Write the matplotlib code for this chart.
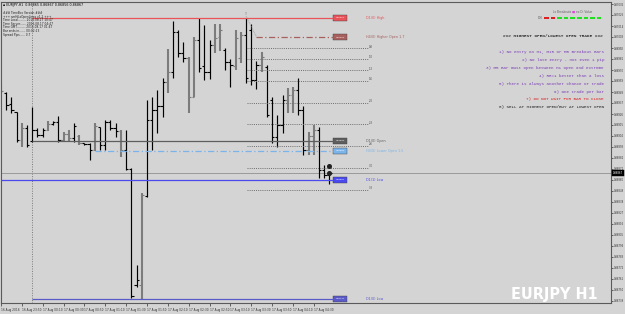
import matplotlib
matplotlib.use("Agg")
import numpy as np
import matplotlib.pyplot as plt
from matplotlib.patches import Rectangle
from matplotlib import font_manager

# --- бары (M5), цены ---
bar_opens = [0.86955, 0.86947, 0.86936, 0.86928, 0.86900, 0.86912, 0.86899, 0.86910, 0.86905, 0.86910,
             0.86916, 0.86918, 0.86900, 0.86906, 0.86902, 0.86904, 0.86897, 0.86896, 0.86890, 0.86913,
             0.86895, 0.86918, 0.86912, 0.86909, 0.86890, 0.86871, 0.86755, 0.86755, 0.86844, 0.86920,
             0.86930, 0.86934, 0.86958, 0.86968, 0.87008, 0.86987, 0.86982, 0.86943, 0.87000, 0.86974,
             0.86968, 0.86995, 0.87003, 0.86990, 0.86978, 0.86974, 0.86982, 0.87005, 0.87010, 0.86960,
             0.86975, 0.86973, 0.86940, 0.86903, 0.86915, 0.86940, 0.86945, 0.86950, 0.86930, 0.86890,
             0.86904, 0.86910, 0.86870, 0.86865]
bar_highs = [0.86957, 0.86948, 0.86943, 0.86928, 0.86917, 0.86915, 0.86933, 0.86912, 0.86912, 0.86919,
             0.86919, 0.86924, 0.86908, 0.86910, 0.86917, 0.86905, 0.86897, 0.86897, 0.86917, 0.86913,
             0.86920, 0.86920, 0.86917, 0.86910, 0.86910, 0.86872, 0.86775, 0.86847, 0.86940, 0.86943,
             0.86950, 0.86962, 0.86991, 0.87019, 0.87010, 0.86998, 0.86983, 0.87003, 0.87022, 0.87015,
             0.87000, 0.87016, 0.87016, 0.86992, 0.86981, 0.87010, 0.87008, 0.87022, 0.87016, 0.86979,
             0.86988, 0.86975, 0.86943, 0.86925, 0.86945, 0.86952, 0.86953, 0.86962, 0.86934, 0.86908,
             0.86915, 0.86913, 0.86875, 0.86867]
bar_lows = [0.86947, 0.86930, 0.86927, 0.86898, 0.86893, 0.86893, 0.86898, 0.86903, 0.86903, 0.86909,
            0.86915, 0.86898, 0.86898, 0.86898, 0.86898, 0.86895, 0.86895, 0.86880, 0.86889, 0.86890,
            0.86890, 0.86910, 0.86903, 0.86883, 0.86870, 0.86742, 0.86753, 0.86741, 0.86843, 0.86890,
            0.86907, 0.86923, 0.86947, 0.86962, 0.86983, 0.86978, 0.86927, 0.86943, 0.86968, 0.86960,
            0.86961, 0.86987, 0.86989, 0.86970, 0.86953, 0.86970, 0.86977, 0.86957, 0.86955, 0.86951,
            0.86968, 0.86923, 0.86897, 0.86893, 0.86907, 0.86927, 0.86927, 0.86925, 0.86885, 0.86885,
            0.86885, 0.86862, 0.86862, 0.86856]
bar_closes = [0.86949, 0.86935, 0.86930, 0.86900, 0.86912, 0.86895, 0.86910, 0.86905, 0.86910, 0.86916,
              0.86918, 0.86900, 0.86906, 0.86902, 0.86914, 0.86897, 0.86896, 0.86890, 0.86914, 0.86895,
              0.86918, 0.86912, 0.86909, 0.86890, 0.86871, 0.86744, 0.86760, 0.86845, 0.86920, 0.86930,
              0.86934, 0.86958, 0.86968, 0.87008, 0.86987, 0.86982, 0.86943, 0.87000, 0.86972, 0.86968,
              0.86995, 0.87002, 0.87010, 0.86978, 0.86975, 0.87002, 0.87005, 0.86962, 0.86960, 0.86975,
              0.86983, 0.86925, 0.86903, 0.86915, 0.86940, 0.86945, 0.86950, 0.86930, 0.86890, 0.86904,
              0.86910, 0.86870, 0.86865, 0.86867]
gray_bars = [0, 4, 9, 12, 13, 15, 18, 23, 27, 32, 36, 37, 41, 42, 45, 46, 50, 55, 56, 59, 60]

# --- уровни индикатора ---
level_names = ["D1(0) High", "H4(0) Higher Open 1.7", "D1(0) Open",
               "H4(0) Lower Open 1.5", "D1(1) Low", "D1(0) Low"]
level_prices = [0.87022, 0.87003, 0.86899, 0.86889, 0.86860, 0.86741]
level_start_bar = [6, 49, 6, 18, 0, 6]

target_prices = [0.86992, 0.86981, 0.86970, 0.86959, 0.86937, 0.86916, 0.86894, 0.86872, 0.86850]
target_labels = ["0.8", "1.0", "1.3", "1.6", "2.0", "2.3", "2.6", "3.0", "3.3"]

marker_prices = [0.86874, 0.86867]
day_separator_bar = 6

time_label_bars = [0, 4, 8, 12, 16, 20, 24, 28, 32, 36, 40, 44, 48, 52, 56, 60]
time_labels = ["16 Aug 2016", "16 Aug 23:50", "17 Aug 00:10", "17 Aug 00:30", "17 Aug 00:50",
               "17 Aug 01:10", "17 Aug 01:30", "17 Aug 01:50", "17 Aug 02:10", "17 Aug 02:30",
               "17 Aug 02:50", "17 Aug 03:10", "17 Aug 03:30", "17 Aug 03:50", "17 Aug 04:10",
               "17 Aug 04:30"]

info_lines = ["### TimeBox Version ###",
              "+++ smHiLoOpenLines v1.2 +++",
              "Time Local......... 2016.08.17 10:47",
              "Time Server....... 2016.08.17 04:47",
              "Time GMT.......... 2016.08.17 01:47",
              "Bar ends in....... 00:02:13",
              "Spread Pips...... 0.7"]

rules = ["1) No entry on H1, M15 or M5 Breakout Bars",
         "2) No late entry - not even 1 pip",
         "3) M5 Bar must open between H1 open and extreme",
         "4) RR=1 better than a loss",
         "5) There is always another chance or trade",
         "6) One trade per bar",
         "7) DO NOT WAIT FOR BAR TO CLOSE",
         "8) SELL AT HIGHEST OPEN/BUY AT LOWEST OPEN"]
breakout_flags = [0, 0, 1, 1, 1, 1, 1, 1, 1]  # 0 - red, 1 - green

W, H = 625, 314
BG = "#d4d4d4"


def fx(px):
    return px / W


def fy(py):
    return 1 - py / H


def narrow_bold_font():
    """Ищем узкий жирный шрифт для водяного знака"""
    for f in font_manager.fontManager.ttflist:
        n = (f.name + " " + f.fname).lower()
        if ("narrow" in n or "condensed" in n) and f.weight in ("bold", 700, "heavy"):
            return font_manager.FontProperties(fname=f.fname)
    for f in font_manager.fontManager.ttflist:
        n = (f.name + " " + f.fname).lower()
        if "narrow" in n or "condensed" in n:
            return font_manager.FontProperties(fname=f.fname, weight="bold")
    return None


fig = plt.figure(figsize=(W / 100, H / 100), dpi=100, facecolor=BG)
ax = fig.add_axes([fx(1), fy(303), (611 - 1) / W, (303 - 2) / H])
ax.set_facecolor(BG)
ax.set_xlim(0.06, 117.0)
ax.set_ylim(0.86737, 0.87038)
for s in ax.spines.values():
    s.set_color("#5a5a5a")
    s.set_linewidth(0.8)

# разделитель дня
ax.axvline(day_separator_bar, color="#7a7a7a", lw=0.7, ls=(0, (1, 1.5)))

# линия bid
bid = bar_closes[-1]
ax.axhline(bid, color="#9a9a9a", lw=0.7)

# бары
for i in range(len(bar_opens)):
    gray = i in gray_bars
    col = "#7c7c7c" if gray else "black"
    lw = 1.5 if gray else 0.85
    ax.vlines(i, bar_lows[i], bar_highs[i], color=col, lw=lw)
    ax.hlines(bar_opens[i], i - 0.45, i, color=col, lw=0.8)
    ax.hlines(bar_closes[i], i, i + 0.45, color=col, lw=0.8)

# уровни
lvl_colors = ["#e8545a", "#a8605f", "#5e5e5e", "#7ab4ea", "#4a4af0", "#5a5ac8"]
lvl_styles = ["-", (0, (5, 2, 1, 2)), "-", (0, (5, 2, 1, 2)), "-", "-"]
box_x0, box_w, label_x = 63.7, 2.7, 70.0
for name, p, start, c, st in zip(level_names, level_prices, level_start_bar, lvl_colors, lvl_styles):
    ax.hlines(p, start if start > 0 else 0.06, box_x0, color=c, lw=0.9, ls=st)
    ax.add_patch(Rectangle((box_x0, p - 0.000028), box_w, 0.000056, facecolor=c,
                           edgecolor="#404040", lw=0.3))
    ax.text(box_x0 + box_w / 2, p, f"{p:.5f}", fontsize=1.6, color="white",
            ha="center", va="center")
    ax.text(label_x, p, name, fontsize=2.4, color=c, ha="left", va="center")

# цели (пунктир)
for p, lab in zip(target_prices, target_labels):
    ax.hlines(p, 47.2, 70.4, color="#6e6e6e", lw=0.7, ls=(0, (1, 1.2)))
    ax.text(70.6, p + 0.000015, lab, fontsize=1.8, color="#404040", ha="left", va="center")

# соединение от максимума
ax.plot([47, 49], [bar_highs[47] + 0.00002, level_prices[1]], color="#9a9a9a",
        lw=0.6, ls=(0, (1, 1)))
ax.text(47, bar_highs[47] + 0.00004, "\u03a0", fontsize=2, color="#8a8a8a", ha="center", va="center")

# метки на последнем баре
ax.plot([len(bar_opens) - 1] * 2, marker_prices, "o", color="#202020", ms=2.6, ls="none")

# правая шкала цен
ticks = [0.87036 - 0.00011 * k for k in range(28)]
ax.yaxis.tick_right()
ax.set_yticks(ticks)
ax.set_yticklabels([f"{t:.5f}" for t in ticks])
ax.tick_params(axis="y", length=1.5, width=0.5, pad=0.6, labelsize=1.85, colors="#303030")
# нижняя шкала времени
ax.set_xticks(time_label_bars)
ax.set_xticklabels(time_labels)
ax.tick_params(axis="x", length=2.5, width=0.5, pad=1.2, labelsize=2.1, colors="#303030")
for t in ax.get_xticklabels():
    t.set_ha("left")

# текущая цена на шкале
ax.annotate(f"{bid:.5f}", xy=(1.0, bid), xycoords=("axes fraction", "data"),
            xytext=(1.6, 0), textcoords="offset points", fontsize=1.85, color="white",
            va="center", ha="left", annotation_clip=False,
            bbox=dict(boxstyle="square,pad=0.3", fc="black", ec="black", lw=0.3))

# заголовок слева сверху
fig.text(fx(3), fy(5), f"\u25aa EURJPY,H1  {bar_opens[-1]:.5f} {bar_highs[-1]:.5f} "
         f"{bar_lows[-1]:.5f} {bar_closes[-1]:.5f}", fontsize=2.3, color="black", va="center")
for k, line in enumerate(info_lines):
    fig.text(fx(3), fy(13 + 3.6 * k), line, fontsize=2.1, color="#202020", va="center")

# блок пробоев справа сверху
fig.text(fx(571), fy(12), "Lo Breakouts", fontsize=2.1, color="#606060", ha="right", va="center")
fig.text(fx(573), fy(12), "\u25a0", fontsize=2.4, color="#e040e0", ha="center", va="center")
fig.text(fx(576), fy(12), "ex D: Value", fontsize=2.1, color="#606060", ha="left", va="center")
fig.text(fx(543), fy(18), "100", fontsize=2.0, color="#606060", ha="right", va="center")
for k, flag in enumerate(breakout_flags):
    x0 = 544 + 6.6 * k
    fig.patches.append(Rectangle((fx(x0), fy(19)), 4.6 / W, 2 / H, transform=fig.transFigure,
                                 facecolor="#e02020" if flag == 0 else "#20e020",
                                 edgecolor="none"))

# правила
fig.text(fx(603), fy(36), "### HIGHEST OPEN/LOWEST OPEN TRADE ###", fontsize=3.2,
         family="Liberation Mono", weight="bold", color="#303030", ha="right", va="center")
for k, rule in enumerate(rules):
    c = "#7a3ab8"
    if k == 6:
        c = "#e02020"
    elif k == 7:
        c = "#202020"
    fig.text(fx(604), fy(52 + 7.9 * k), rule, fontsize=3.1, family="Liberation Mono",
             color=c, ha="right", va="center")

# водяной знак
wm_font = narrow_bold_font()
if wm_font is not None:
    wm_font.set_size(11.5)
    fig.text(fx(598), fy(299), "EURJPY H1", fontproperties=wm_font, color="white",
             ha="right", va="baseline")
else:
    fig.text(fx(598), fy(299), "EURJPY H1", fontsize=9, weight="bold", color="white",
             ha="right", va="baseline")

fig.savefig("out.png", dpi=100, facecolor=BG)
